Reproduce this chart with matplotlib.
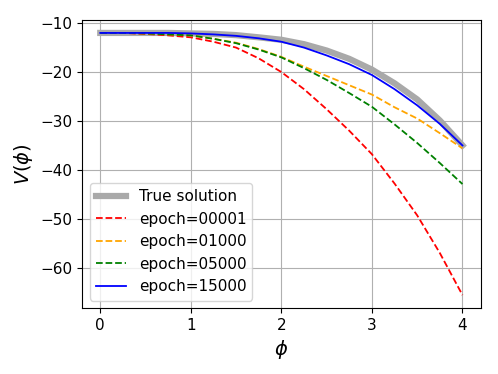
import matplotlib
matplotlib.use("Agg")
import matplotlib.pyplot as plt

# values
phi = [0.0, 0.25, 0.5, 0.75, 1.0, 1.25, 1.5, 1.75, 2.0,
       2.25, 2.5, 2.75, 3.0, 3.25, 3.5, 3.75, 4.0]

v_true = [-12.0, -12.0, -12.0, -12.0, -12.1, -12.2, -12.45, -12.9, -13.4,
          -14.3, -15.6, -17.3, -19.5, -22.3, -25.6, -29.9, -35.0]
v_00001 = [-12.0, -12.0, -12.2, -12.5, -12.9, -13.8, -15.0, -17.2, -20.0,
           -23.5, -27.6, -32.0, -36.8, -42.8, -49.3, -57.0, -65.6]
v_01000 = [-12.0, -12.0, -12.1, -12.3, -12.5, -13.2, -14.0, -15.3, -16.9,
           -18.9, -20.8, -22.7, -24.6, -27.2, -29.5, -32.5, -35.6]
v_05000 = [-12.0, -12.0, -12.1, -12.3, -12.5, -13.2, -14.1, -15.4, -17.0,
           -19.2, -21.6, -24.3, -27.1, -30.7, -34.5, -38.6, -42.9]
v_15000 = [-12.0, -12.0, -12.0, -12.0, -12.1, -12.3, -12.6, -13.1, -13.8,
           -15.0, -16.6, -18.4, -20.6, -23.5, -26.8, -30.6, -35.0]

x_ticks = [0, 1, 2, 3, 4]


def main():
    fig = plt.figure(figsize=(4.98, 3.74), dpi=100)
    ax = fig.add_axes([0.165, 0.176, 0.8, 0.771])

    ax.plot(phi, v_true, color='darkgray', lw=4.5, label='True solution')
    ax.plot(phi, v_00001, '--', color='red', lw=1.3, label='epoch=00001')
    ax.plot(phi, v_01000, '--', color='orange', lw=1.3, label='epoch=01000')
    ax.plot(phi, v_05000, '--', color='green', lw=1.3, label='epoch=05000')
    ax.plot(phi, v_15000, '-', color='blue', lw=1.3, label='epoch=15000')

    ax.set_xticks(x_ticks)
    ax.set_xlabel(r'$\phi$', fontsize=14)
    ax.set_ylabel(r'$V(\phi)$', fontsize=14)
    ax.tick_params(labelsize=11)
    ax.grid(True)
    ax.legend(loc='lower left', fontsize=11)

    fig.savefig('out.png', dpi=100)


if __name__ == '__main__':
    main()
